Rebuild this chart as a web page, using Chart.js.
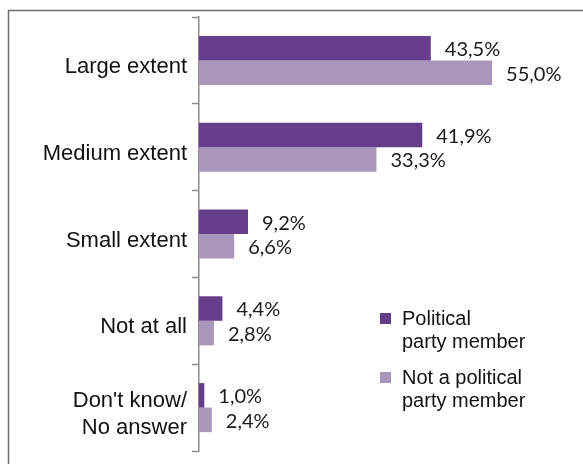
<!DOCTYPE html>
<html>
<head>
<meta charset="utf-8">
<script src="https://cdn.jsdelivr.net/npm/chart.js@4/dist/chart.umd.min.js"></script>
<style>
  html, body { margin: 0; padding: 0; background: #fff; }
  canvas { display: block; }
</style>
</head>
<body>
<canvas id="grafico" width="583" height="464"></canvas>
<script>
// answers and shares per group (%)
var categories = ['Large extent', 'Medium extent', 'Small extent', 'Not at all', ["Don't know/", 'No answer']];
var partyMember = [43.5, 41.9, 9.2, 4.4, 1.0];
var notPartyMember = [55.0, 33.3, 6.6, 2.8, 2.4];
var seriesNames = [['Political', 'party member'], ['Not a political', 'party member']];

var purple = '#663d8b';
var lilac = '#a996ba';

// comma as decimal separator
function pct(v) {
    return v.toFixed(1).replace('.', ',') + '%';
}

var frame = {
    id: 'frame',
    beforeDraw: function (chart) {
        var ctx = chart.ctx;
        ctx.save();
        ctx.strokeStyle = '#6e6e6e';
        ctx.lineWidth = 1.5;
        ctx.beginPath();
        ctx.moveTo(8.5, chart.height);
        ctx.lineTo(8.5, 10.5);
        ctx.lineTo(chart.width, 10.5);
        ctx.stroke();
        ctx.restore();
    }
};

var valueLabels = {
    id: 'valueLabels',
    afterDatasetsDraw: function (chart) {
        var ctx = chart.ctx;
        ctx.save();
        ctx.font = '20px Lato';
        ctx.fillStyle = '#1a1a1a';
        ctx.textAlign = 'left';
        ctx.textBaseline = 'middle';
        chart.data.datasets.forEach(function (ds, i) {
            chart.getDatasetMeta(i).data.forEach(function (bar, j) {
                ctx.fillText(pct(ds.data[j]), bar.x + 14, bar.y + 1.5);
            });
        });
        ctx.restore();
    }
};

var sideLegend = {
    id: 'sideLegend',
    afterDraw: function (chart) {
        var ctx = chart.ctx;
        var tops = [313, 372];
        ctx.save();
        ctx.font = '20px "Liberation Sans", Arial, sans-serif';
        ctx.textAlign = 'left';
        ctx.textBaseline = 'alphabetic';
        chart.data.datasets.forEach(function (ds, i) {
            ctx.fillStyle = ds.backgroundColor;
            ctx.fillRect(380, tops[i], 11, 11);
            ctx.fillStyle = '#111';
            seriesNames[i].forEach(function (line, k) {
                ctx.fillText(line, 402, tops[i] + 12 + k * 23);
            });
        });
        ctx.restore();
    }
};

var chart = new Chart(document.getElementById('grafico'), {
    type: 'bar',
    data: {
        labels: categories,
        datasets: [
            { label: 'Political party member', data: partyMember, backgroundColor: purple },
            { label: 'Not a political party member', data: notPartyMember, backgroundColor: lilac }
        ]
    },
    options: {
        indexAxis: 'y',
        responsive: false,
        devicePixelRatio: 1,
        animation: false,
        datasets: {
            bar: { barPercentage: 1, categoryPercentage: 0.565 }
        },
        layout: { padding: { top: 17, bottom: 13, right: 11, left: 0 } },
        plugins: {
            legend: { display: false },
            tooltip: { enabled: false }
        },
        scales: {
            x: { display: false, min: 0, max: 70 },
            y: {
                afterFit: function (scale) {
                    // fixed axis width, no extra room for the end labels
                    scale.width = 199;
                    scale.paddingTop = 0;
                    scale.paddingBottom = 0;
                },
                border: { color: '#8c8c8c', width: 1.5 },
                grid: {
                    offset: true,
                    drawOnChartArea: false,
                    tickLength: 7,
                    tickColor: '#8c8c8c',
                    tickWidth: 1.5
                },
                ticks: {
                    color: '#111',
                    padding: 5,
                    labelOffset: 6.5,
                    font: { family: '"Liberation Sans", Arial, sans-serif', size: 22, lineHeight: 1.23 }
                }
            }
        }
    },
    plugins: [frame, valueLabels, sideLegend]
});
</script>
</body>
</html>
